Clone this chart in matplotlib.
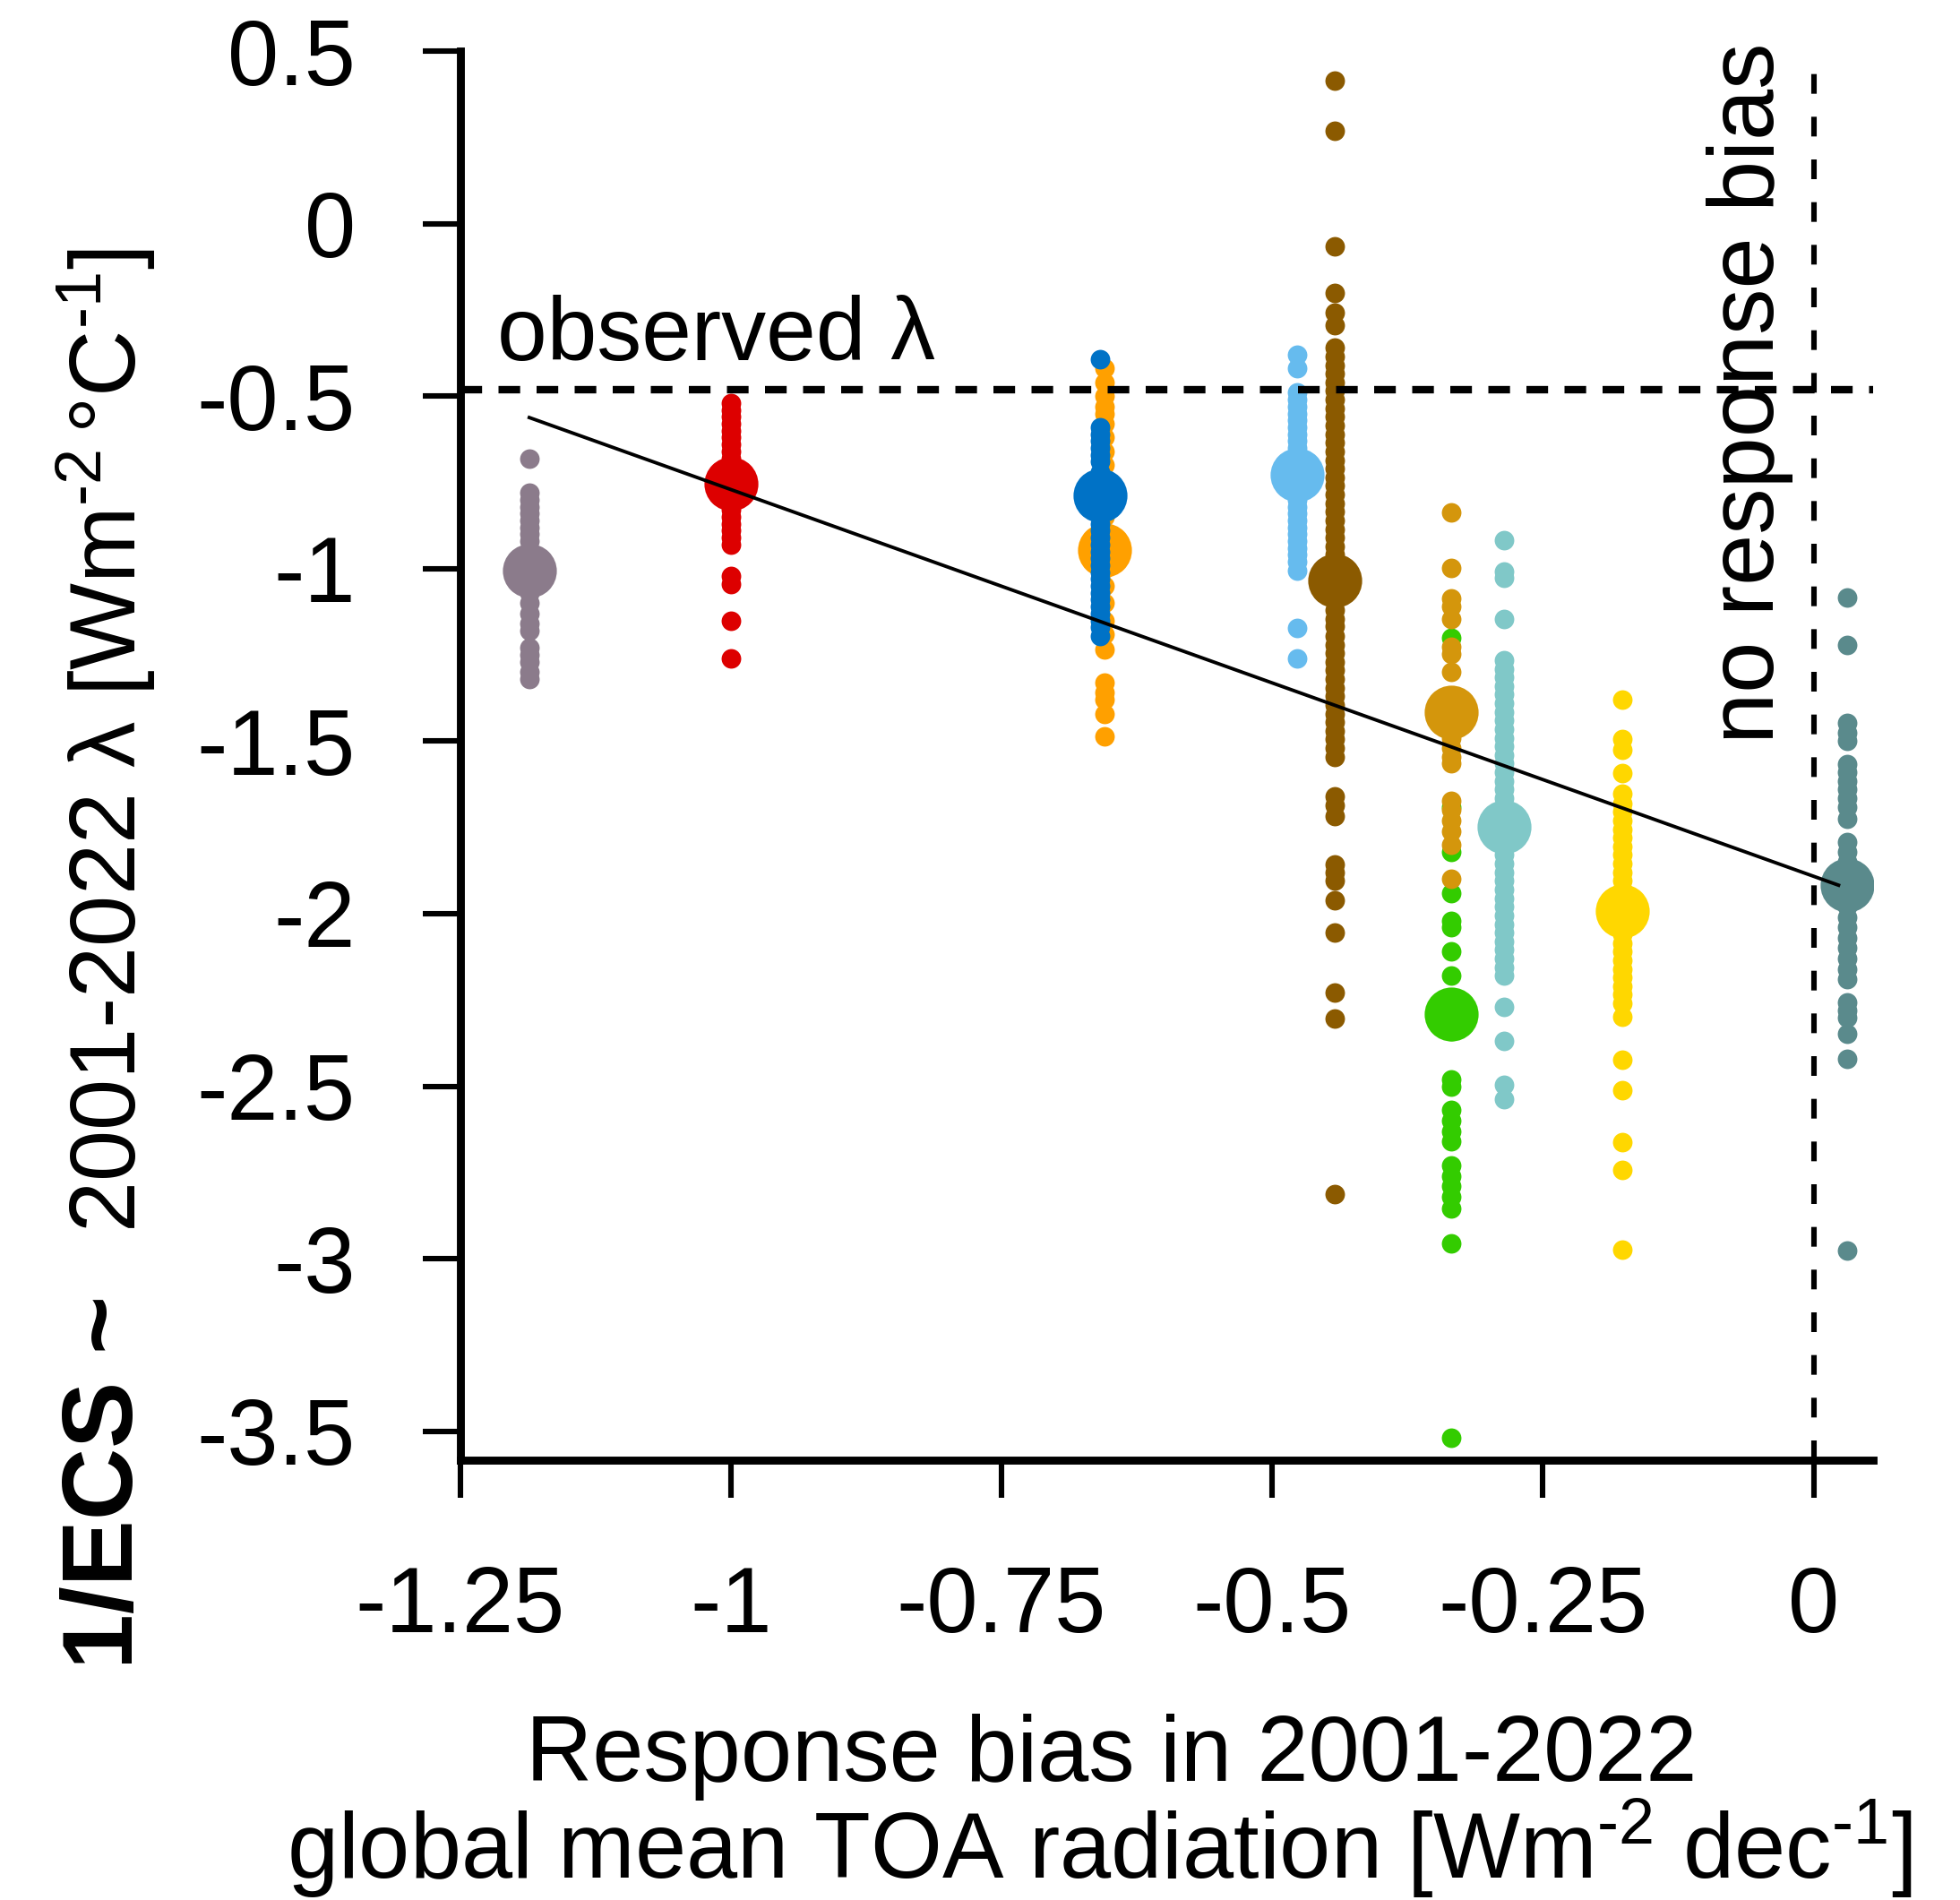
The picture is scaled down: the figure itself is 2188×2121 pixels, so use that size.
import numpy as np
import matplotlib.pyplot as plt

plt.rcParams['font.family'] = ['Liberation Sans', 'DejaVu Sans']
plt.rcParams['axes.unicode_minus'] = False
plt.rcParams['mathtext.fontset'] = 'custom'
plt.rcParams['mathtext.rm'] = 'Liberation Sans'
plt.rcParams['mathtext.it'] = 'Liberation Sans:italic'
plt.rcParams['mathtext.bf'] = 'Liberation Sans:bold'

# one column per model: response bias, ensemble-mean lambda (big dot)
bias = [-1.186, -1.0, -0.655, -0.659, -0.477, -0.442, -0.335, -0.335, -0.286, -0.177, 0.031]
lam_mean = [-1.005, -0.755, -0.945, -0.788, -0.728, -1.035, -2.29, -1.415, -1.748, -1.991, -1.918]
colors = ['#8b7b8b', '#dd0000', '#ffa000', '#0072c6', '#66bbee', '#8b5a00',
          '#33cc00', '#d4960c', '#80c8c8', '#ffd700', '#5a8a8c']

# single members (small dots)
grey_pts = [-0.68, -0.78, -0.80, -0.82, -0.84, -0.86, -0.88, -0.90, -0.92, -0.96, -1.04, -1.07,
            -1.10, -1.13, -1.16, -1.18, -1.23, -1.25, -1.27, -1.30, -1.32]
red_pts = [-0.52, -0.54, -0.56, -0.58, -0.60, -0.62, -0.64, -0.66, -0.68, -0.70, -0.72, -0.79,
           -0.81, -0.83, -0.85, -0.87, -0.89, -0.91, -0.93, -1.02, -1.045, -1.15, -1.26]
orange_pts = [-0.42, -0.46, -0.50, -0.53, -0.55, -0.58, -0.62, -0.66, -0.70, -0.75, -0.80, -0.85,
              -0.90, -1.00, -1.05, -1.10, -1.15, -1.19, -1.235, -1.33, -1.36, -1.38, -1.42, -1.485]
blue_pts = [-0.392, -0.59, -0.61, -0.63, -0.65, -0.67, -0.69, -0.72, -0.75, -0.82, -0.87, -0.89,
            -0.91, -0.93, -0.95, -0.97, -0.99, -1.01, -1.03, -1.05, -1.07, -1.09, -1.11, -1.13,
            -1.15, -1.17, -1.195]
ltblue_pts = [-0.381, -0.42, -0.49, -0.51, -0.53, -0.55, -0.57, -0.59, -0.61, -0.63, -0.65, -0.67,
              -0.69, -0.77, -0.80, -0.82, -0.84, -0.86, -0.88, -0.90, -0.92, -0.94, -0.96, -0.98,
              -1.005, -1.173, -1.26]
brown_pts = [0.414, 0.268, -0.066, -0.20, -0.258, -0.293, -0.36, -0.385, -0.41, -0.435, -0.46,
             -0.485, -0.51, -0.535, -0.56, -0.585, -0.61, -0.635, -0.66, -0.685, -0.71, -0.735,
             -0.76, -0.785, -0.81, -0.835, -0.86, -0.885, -0.91, -0.935, -0.96, -0.985, -1.01,
             -1.06, -1.09, -1.12, -1.145, -1.166, -1.195, -1.22, -1.245, -1.27, -1.295, -1.32,
             -1.345, -1.37, -1.395, -1.42, -1.445, -1.47, -1.495, -1.52, -1.545, -1.66, -1.685,
             -1.718, -1.857, -1.88, -1.904, -1.961, -2.055, -2.229, -2.305, -2.813]
green_pts = [-1.20, -1.465, -1.69, -1.82, -1.94, -2.02, -2.04, -2.11, -2.18, -2.34, -2.48, -2.50,
             -2.57, -2.60, -2.63, -2.66, -2.73, -2.76, -2.79, -2.82, -2.855, -2.955, -3.52]
goldenrod_pts = [-0.838, -0.997, -1.087, -1.11, -1.146, -1.226, -1.246, -1.30, -1.46, -1.49,
                 -1.52, -1.545, -1.564, -1.673, -1.70, -1.73, -1.76, -1.80, -1.90]
ltteal_pts = [-0.918, -1.007, -1.027, -1.146, -1.266, -1.29, -1.315, -1.34, -1.365, -1.39, -1.415,
              -1.44, -1.465, -1.49, -1.515, -1.54, -1.565, -1.59, -1.615, -1.64, -1.665, -1.69,
              -1.80, -1.83, -1.855, -1.88, -1.905, -1.93, -1.955, -1.98, -2.005, -2.03, -2.055,
              -2.08, -2.105, -2.13, -2.155, -2.179, -2.269, -2.368, -2.497, -2.537]
yellow_pts = [-1.379, -1.494, -1.524, -1.593, -1.653, -1.68, -1.705, -1.73, -1.755, -1.78, -1.805,
              -1.83, -1.855, -1.88, -1.905, -1.93, -2.06, -2.085, -2.11, -2.135, -2.16, -2.185,
              -2.21, -2.235, -2.26, -2.299, -2.424, -2.511, -2.662, -2.742, -2.974]
dkteal_pts = [-1.083, -1.222, -1.447, -1.475, -1.500, -1.566, -1.59, -1.615, -1.64, -1.665, -1.69,
              -1.726, -1.792, -1.82, -1.85, -1.88, -1.95, -1.98, -2.01, -2.04, -2.07, -2.10,
              -2.13, -2.16, -2.189, -2.256, -2.28, -2.30, -2.348, -2.421, -2.977]

members = [grey_pts, red_pts, orange_pts, blue_pts, ltblue_pts, brown_pts,
           green_pts, goldenrod_pts, ltteal_pts, yellow_pts, dkteal_pts]

obs_lambda = -0.48

yticks = [0.5, 0, -0.5, -1, -1.5, -2, -2.5, -3, -3.5]
ytick_labels = ['0.5', '0', '-0.5', '-1', '-1.5', '-2', '-2.5', '-3', '-3.5']
xticks = [-1.25, -1, -0.75, -0.5, -0.25, 0]
xtick_labels = ['-1.25', '-1', '-0.75', '-0.5', '-0.25', '0']

fig = plt.figure(figsize=(10.94, 10.605), dpi=200)
ax = fig.add_axes([0.2347, 0.2313, 0.721, 0.7454])

for xb, ym, pts, c in zip(bias, lam_mean, members, colors):
    ax.scatter(np.full(len(pts), xb), pts, s=62, color=c, linewidths=0, zorder=2)
    ax.scatter([xb], [ym], s=470, color=c, linewidths=0, zorder=2)

# regression through the model means
slope, icpt = np.polyfit(bias, lam_mean, 1)
xx = np.array([min(bias), max(bias) - 0.008])
ax.plot(xx, slope * xx + icpt, color='black', lw=1.4, zorder=3)

ax.axhline(obs_lambda, color='black', lw=3, ls=(0, (2.9, 2.2)), zorder=4)
ax.vlines(0, -3.585, 0.455, color='black', lw=2.2, ls=(0, (3.6, 4.2)), zorder=4)

ax.text(-1.2156, -0.395, 'observed λ', fontsize=36, ha='left', va='baseline')
ax.text(-0.037, -1.507, 'no response bias', fontsize=37, rotation=90,
        rotation_mode='anchor', ha='left', va='baseline')

ax.set_xlim(-1.25, 0.055)
ax.set_ylim(-3.585, 0.52)
ax.set_xticks(xticks)
ax.set_xticklabels(xtick_labels)
ax.set_yticks(yticks)
ax.set_yticklabels(ytick_labels)
ax.tick_params(length=15, width=2.2, direction='out', pad=27, labelsize=37)

for s in ['top', 'right']:
    ax.spines[s].set_visible(False)
for s in ['left', 'bottom']:
    ax.spines[s].set_linewidth(3.2)
    ax.spines[s].set_capstyle('projecting')
ax.spines['left'].set_bounds(-3.585, 0.5)

fig.text(0.0544, 0.1216, '1/ECS ~', fontsize=40, fontweight='bold', rotation=90,
         ha='center', va='bottom')
fig.text(0.054, 0.3512, '2001-2022 λ [Wm$^{\\text{-}2}\\,$°C$^{\\text{-}1}$]', fontsize=37,
         rotation=90, ha='center', va='bottom')

fig.text(0.567, 0.0627, 'Response bias in 2001-2022', fontsize=37, ha='center', va='baseline')
fig.text(0.561, 0.0113, 'global mean TOA radiation [Wm$^{\\text{-}2}$ dec$^{\\text{-}1}$]',
         fontsize=37, ha='center', va='baseline')

fig.savefig('out.png', dpi=200)
